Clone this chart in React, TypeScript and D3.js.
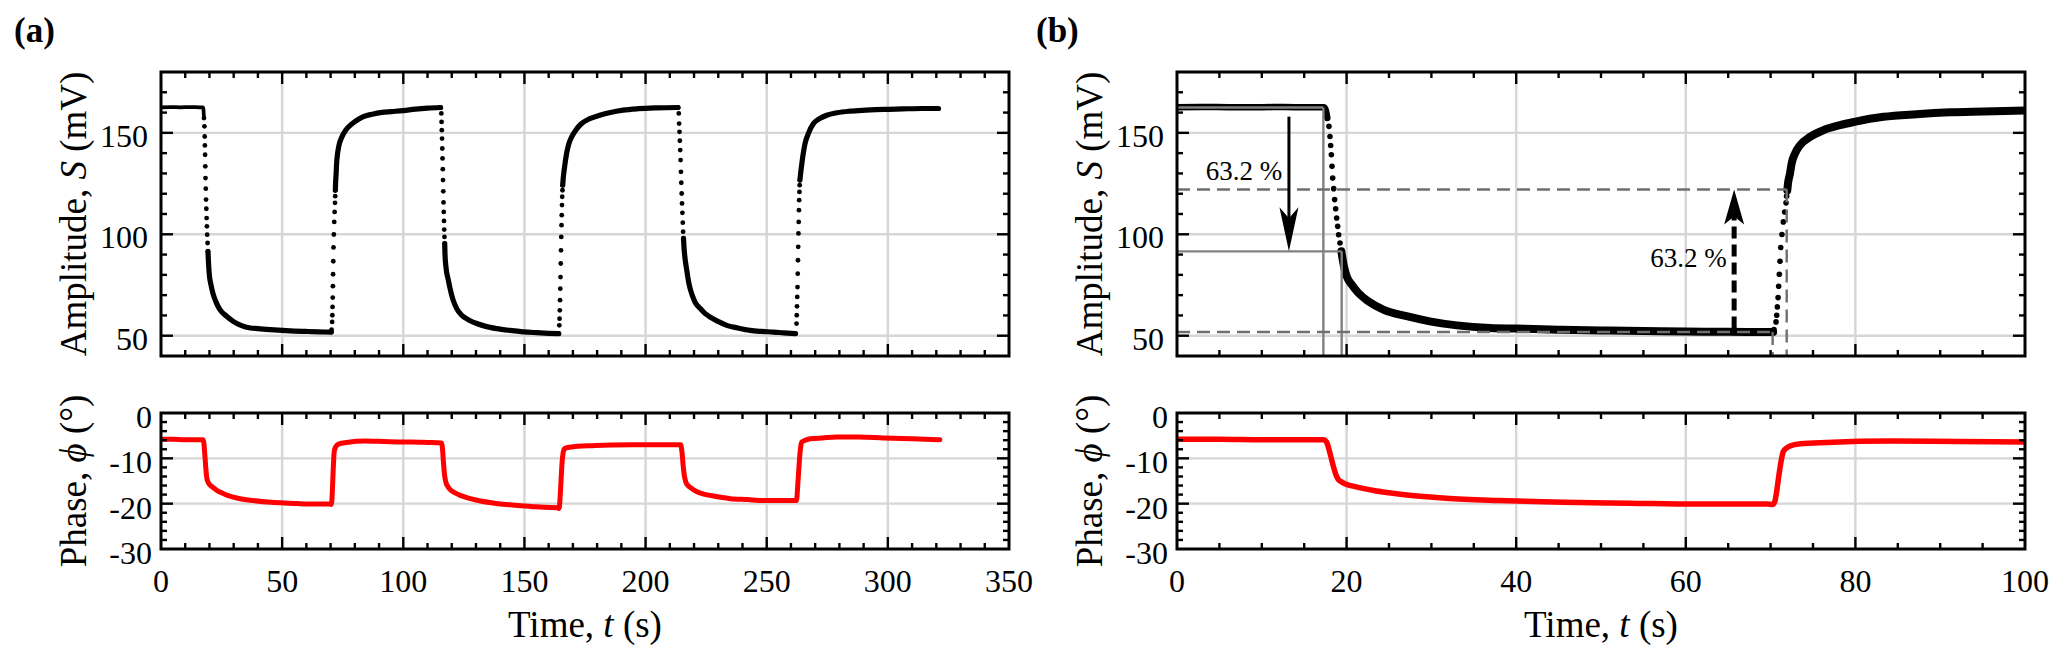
import * as d3 from "d3";

type Pt = [number, number];

// tick values
const timeTicksA = [0, 50, 100, 150, 200, 250, 300, 350];
const timeTicksB = [0, 20, 40, 60, 80, 100];
const ampTicks = [50, 100, 150];
const phaseTicks = [0, -10, -20, -30];

// amplitude S (mV): slow parts (drawn as a dense band) ...
const ampRuns: Pt[][] = [
    [[0, 162.6], [4, 162.7], [8, 162.6], [12, 162.7], [16, 162.6], [17.3, 162.6], [17.5, 161.8], [17.73, 157.3]],
    [[19.38, 91.6], [19.54, 87.5], [19.73, 83.4], [20.01, 79.3], [20.6, 75.2], [21.38, 71.1], [22.56, 67], [24.33, 62.9],
     [27.08, 59.6], [29.8, 57.1], [33, 55.1], [36.9, 53.8], [40, 53.5], [45, 53], [50, 52.6], [55, 52.3], [60, 52.1],
     [65, 51.9], [70.3, 51.8]],
    [[71.97, 121.7], [72.05, 125], [72.29, 130], [72.48, 134.9], [72.88, 139.8], [73.47, 143.9], [74.65, 148],
     [76.22, 151.3], [78.18, 153.8], [79.87, 155.4], [83.3, 157.9], [87.2, 159.2], [91.2, 160.1], [95.1, 160.5],
     [100, 161], [105, 161.7], [110, 162.2], [115.4, 162.5]],
    [[117.1, 95.4], [117.2, 90.5], [117.6, 84], [118.6, 77.4], [120.6, 67.5], [122, 63.5], [124.1, 60.1], [127, 57.8],
     [130.3, 56], [134, 54.6], [138.5, 53.5], [144, 52.6], [149.5, 51.9], [155, 51.5], [160, 51.2], [164.2, 51]],
    [[165.8, 124.2], [166, 127.5], [166.4, 131.6], [167.4, 139.8], [168.3, 144.5], [169.5, 148], [171.3, 151.5],
     [173.6, 154.6], [177, 157], [181.1, 158.7], [185, 159.9], [190.7, 161.2], [197, 161.9], [204.5, 162.3], [213.4, 162.5]],
    [[215.65, 98], [215.9, 93], [216.4, 87], [217, 82.3], [217.7, 77], [218.4, 73.2], [219.4, 69.5], [220.4, 66.6],
     [222.5, 63.5], [224.5, 61], [226.6, 59.2], [230, 57], [233.5, 55.1], [238, 53.8], [243.1, 52.6], [248, 52.1],
     [252.8, 51.8], [257, 51.4], [261.9, 51]],
    [[263.7, 126.7], [264, 130], [264.5, 134.8], [265.1, 140], [265.8, 144.6], [267.3, 150], [269.3, 154.6],
     [271.8, 157], [274.8, 158.7], [279, 159.9], [284.4, 160.7], [291, 161.2], [298.2, 161.6], [306, 161.8],
     [314, 162], [320.9, 162]],
];

// ... and the fast edges, where single samples stand apart
const ampEdges: Pt[] = [
    [17.73, 157.3], [17.92, 153.2], [18.04, 148.2], [18.12, 143.8], [18.2, 139.2], [18.28, 133.5], [18.36, 127.7],
    [18.48, 122.5], [18.59, 117.1], [18.71, 112.6], [18.83, 108], [18.95, 103.9], [19.06, 99.8], [19.22, 95.7], [19.38, 91.6],
    [70.3, 51.8], [70.4, 53], [70.64, 56.8], [70.72, 60.1], [70.8, 64.2], [70.88, 68.8], [70.95, 74.4], [71.03, 80.3], [71.11, 86.7],
    [71.19, 93.5], [71.34, 99.9], [71.5, 106.1], [71.66, 111], [71.82, 115.5], [71.89, 118.8], [71.97, 121.7],
    [115.4, 162.5], [115.7, 159.6], [115.8, 155.4], [115.9, 151.3], [116, 147.2], [116.1, 142.3], [116.2, 137.4], [116.3, 132.1],
    [116.4, 126.7], [116.5, 121.2], [116.6, 115.7], [116.7, 111], [116.8, 106.6], [116.9, 102.3], [117, 98.7], [117.1, 95.4],
    [164.2, 51], [164.4, 55.1], [164.5, 58.4], [164.6, 62.5], [164.7, 67.5], [164.8, 73.2], [164.9, 78.9], [165, 85.6], [165.1, 92.1],
    [165.2, 98.7], [165.3, 104.5], [165.4, 109.4], [165.5, 114.4], [165.6, 118.5], [165.7, 121.7], [165.8, 124.2],
    [213.4, 162.5], [213.7, 159.6], [213.85, 154.6], [214, 150.5], [214.15, 146.1], [214.3, 141.5], [214.45, 136.6], [214.6, 130.8],
    [214.75, 125.4], [214.9, 120.1], [215.05, 115.2], [215.2, 110.6], [215.35, 105.7], [215.5, 101.3], [215.65, 98],
    [261.9, 51], [262.3, 56], [262.4, 60.1], [262.5, 64.5], [262.6, 69.1], [262.7, 74], [262.8, 80.6], [262.9, 87.2], [263, 93.8],
    [263.1, 100.4], [263.2, 106.1], [263.3, 111.9], [263.4, 116.8], [263.5, 120.9], [263.6, 124.2], [263.7, 126.7],
];

// phase (deg)
const phase: Pt[] = [
    [0, -5.8], [5, -5.8], [10, -5.9], [15, -5.9], [17.3, -5.9], [17.6, -6.3], [17.8, -7.2], [18, -8.6], [18.2, -10],
    [18.4, -11.5], [18.6, -12.8], [18.8, -13.9], [19, -14.6], [19.4, -15.2], [19.8, -15.6], [20.9, -16.2], [23.2, -17.1],
    [25, -17.6], [27.1, -18.1], [31.7, -18.8], [37.9, -19.3], [45.6, -19.7], [53.4, -19.9], [61.1, -20.1], [69.6, -20.1],
    [70.2, -20.2], [70.5, -19.5], [70.7, -17.5], [70.9, -14.8], [71.1, -12.2], [71.3, -10], [71.5, -8.5], [71.9, -7.7],
    [72.3, -7.3], [73.5, -6.8], [76.6, -6.5], [84.3, -6.2], [92, -6.3], [100, -6.4],
    [103.4, -6.4], [110, -6.5], [115.7, -6.6], [116.2, -8], [116.6, -11], [117, -13.5], [117.6, -15.3], [118.5, -16.3],
    [120, -17.2], [122.5, -17.9], [125.3, -18.5], [130, -19.2], [139, -20], [145, -20.3], [152.8, -20.6], [158, -20.8],
    [163.7, -20.9], [164.3, -21.1], [164.8, -18], [165.2, -14], [165.6, -10.5], [166, -8.7], [166.5, -7.9], [168, -7.6],
    [172, -7.35], [178, -7.2], [185.7, -7.05], [195, -7], [207.6, -7], [214.5, -7], [215, -8.5], [215.5, -11.5],
    [216, -13.8], [216.6, -15.2], [217.5, -16], [218.6, -16.5], [221, -17.3], [224, -17.9], [226.8, -18.2], [231, -18.6],
    [235, -18.9], [242, -19.1], [248.7, -19.3], [255, -19.3], [262.3, -19.3], [262.8, -16], [263.3, -12], [263.8, -8.5],
    [264.4, -6.4], [266, -6], [268, -5.7], [273, -5.5], [279, -5.3], [288, -5.3], [298.2, -5.5], [310, -5.7], [321.5, -5.9],
];

// 63.2 % construction in (b): [t, S] corners
const fallStart: Pt = [17.26, 162.5];
const fallTau: Pt = [19.42, 91.6];
const riseStart: Pt = [70.24, 51.8];
const riseTau: Pt = [71.9, 122.1];
const fallArrow: Pt[] = [[13.2, 158], [13.2, 91.6]];
const riseArrow: Pt[] = [[65.7, 53.5], [65.7, 122.1]];
const pctLabels: Pt[] = [[3.4, 126.7], [55.8, 83.9]];

const W = 2067;
const H = 663;
const serif = "'Liberation Serif', 'Times New Roman', Tinos, 'DejaVu Serif', serif";
const colA = { left: 161, right: 1009 };
const colB = { left: 1177, right: 2025 };
const rowTop = { top: 72, bottom: 356 };
const rowBot = { top: 413, bottom: 549 };
const gridColor = "#d6d6d6";

type Scale = d3.ScaleLinear<number, number>;

function Frame({ x, y, xMajor, xMinor, yMajor, yMinor, xLabels, labelGap, labelDy }: {
    x: Scale; y: Scale; xMajor: number[]; xMinor: number; yMajor: number[]; yMinor: number;
    xLabels: boolean; labelGap: number; labelDy: number;
}) {
    const [x0, x1] = x.range();
    const [y0, y1] = y.range(); // y0 bottom, y1 top
    const [xd0, xd1] = x.domain();
    const [yd0, yd1] = y.domain();
    const xm = d3.range(xd0, xd1 + 1e-6, xMinor).filter((v) => v > xd0 && v < xd1);
    const ym = d3.range(yd0, yd1 + 1e-6, yMinor).filter((v) => v > yd0 && v < yd1);
    const isMajorX = (v: number) => xMajor.some((m) => Math.abs(m - v) < 1e-6);
    const isMajorY = (v: number) => yMajor.some((m) => Math.abs(m - v) < 1e-6);
    return (
        <g>
            {xm.map((v) => {
                const L = isMajorX(v) ? 12 : 6;
                return (
                    <g key={"xt" + v} stroke="#000" strokeWidth={2.4}>
                        <line x1={x(v)} x2={x(v)} y1={y0} y2={y0 - L} />
                        <line x1={x(v)} x2={x(v)} y1={y1} y2={y1 + L} />
                    </g>
                );
            })}
            {ym.map((v) => {
                const L = isMajorY(v) ? 12 : 6;
                return (
                    <g key={"yt" + v} stroke="#000" strokeWidth={2.4}>
                        <line x1={x0} x2={x0 + L} y1={y(v)} y2={y(v)} />
                        <line x1={x1} x2={x1 - L} y1={y(v)} y2={y(v)} />
                    </g>
                );
            })}
            <rect x={x0} y={y1} width={x1 - x0} height={y0 - y1} fill="none" stroke="#000" strokeWidth={3} />
            {yMajor.map((v) => (
                <text key={"yl" + v} x={x0 - labelGap} y={y(v) + labelDy} textAnchor="end"
                    style={{ fontFamily: serif, fontSize: 32 }}>{String(v)}</text>
            ))}
            {xLabels && xMajor.map((v) => (
                <text key={"xl" + v} x={x(v)} y={592} textAnchor="middle"
                    style={{ fontFamily: serif, fontSize: 32 }}>{String(v)}</text>
            ))}
        </g>
    );
}

function Grid({ x, y, xs, ys }: { x: Scale; y: Scale; xs: number[]; ys: number[] }) {
    const [x0, x1] = x.range();
    const [y0, y1] = y.range();
    return (
        <g stroke={gridColor} strokeWidth={2.4}>
            {xs.filter((v) => x(v) > x0 + 1 && x(v) < x1 - 1).map((v) => (
                <line key={"gx" + v} x1={x(v)} x2={x(v)} y1={y0} y2={y1} />
            ))}
            {ys.filter((v) => y(v) < y0 - 1 && y(v) > y1 + 1).map((v) => (
                <line key={"gy" + v} x1={x0} x2={x1} y1={y(v)} y2={y(v)} />
            ))}
        </g>
    );
}

function Column({ id, col, tMax, xMajor, xMinor, band, dotR, phaseW, construction }: {
    id: string; col: { left: number; right: number }; tMax: number; xMajor: number[]; xMinor: number;
    band: number; dotR: number; phaseW: number; construction: boolean;
}) {
    const x = d3.scaleLinear().domain([0, tMax]).range([col.left, col.right]);
    const yS = d3.scaleLinear().domain([40, 180]).range([rowTop.bottom, rowTop.top]);
    const yP = d3.scaleLinear().domain([-30, 0]).range([rowBot.bottom, rowBot.top]);
    const keep = (p: Pt) => p[0] <= tMax + 1e-6;

    const lineS = d3.line<Pt>().x((d) => x(d[0])).y((d) => yS(d[1])).curve(d3.curveMonotoneX);
    const lineP = d3.line<Pt>().x((d) => x(d[0])).y((d) => yP(d[1])).curve(d3.curveMonotoneX);
    const cx = (col.left + col.right) / 2;
    const titleStyle = { fontFamily: serif, fontSize: 37 };

    const grayLine = (a: Pt, b: Pt, dashed: boolean, k: string) => (
        <line key={k} x1={x(a[0])} y1={yS(a[1])} x2={x(b[0])} y2={yS(b[1])}
            stroke={dashed ? "#6f6f6f" : "#808080"} strokeWidth={2.4}
            strokeDasharray={dashed ? "13 7" : undefined} />
    );

    const fx = x(fallArrow[0][0]);
    const fTip = yS(fallArrow[1][1]);
    const rx = x(riseArrow[0][0]);
    const rTip = yS(riseArrow[1][1]);

    return (
        <g>
            <defs>
                <clipPath id={"clipS" + id}>
                    <rect x={col.left} y={rowTop.top} width={col.right - col.left} height={rowTop.bottom - rowTop.top} />
                </clipPath>
                <clipPath id={"clipP" + id}>
                    <rect x={col.left} y={rowBot.top} width={col.right - col.left} height={rowBot.bottom - rowBot.top} />
                </clipPath>
            </defs>

            {/* amplitude */}
            <Grid x={x} y={yS} xs={xMajor} ys={ampTicks} />
            <g clipPath={`url(#clipS${id})`}>
                {ampRuns.map((run, i) => {
                    const pts = run.filter(keep);
                    return pts.length > 1 ? (
                        <path key={i} d={lineS(pts) ?? ""} fill="none" stroke="#000" strokeWidth={i === 0 ? band - 1.5 : band}
                            strokeLinecap="round" strokeLinejoin="round" />
                    ) : null;
                })}
                {ampEdges.filter(keep).map((p, i) => (
                    <circle key={i} cx={x(p[0])} cy={yS(p[1])} r={dotR} fill="#000" />
                ))}
            </g>

            {construction && (
                <g>
                    {grayLine([0, fallStart[1]], fallStart, false, "c1")}
                    {grayLine(fallStart, [fallStart[0], 40], false, "c2")}
                    {grayLine([0, fallTau[1]], fallTau, false, "c3")}
                    {grayLine(fallTau, [fallTau[0], 40], false, "c4")}
                    {grayLine([0, riseTau[1]], riseTau, true, "c5")}
                    {grayLine(riseTau, [riseTau[0], 40], true, "c6")}
                    {grayLine([0, riseStart[1]], riseStart, true, "c7")}
                    {grayLine(riseStart, [riseStart[0], 40], true, "c8")}

                    <line x1={fx} x2={fx} y1={yS(fallArrow[0][1])} y2={fTip - 30} stroke="#000" strokeWidth={3} />
                    <path d={`M${fx},${fTip} L${fx - 9.5},${fTip - 44} L${fx},${fTip - 33} L${fx + 9.5},${fTip - 44} Z`} fill="#000" />

                    <line x1={rx} x2={rx} y1={yS(riseArrow[0][1])} y2={rTip + 26} stroke="#000" strokeWidth={5}
                        strokeDasharray="12 6" />
                    <path d={`M${rx},${rTip} L${rx - 10},${rTip + 35} L${rx},${rTip + 27} L${rx + 10},${rTip + 35} Z`} fill="#000" />

                    {pctLabels.map((p, i) => (
                        <text key={i} x={x(p[0])} y={yS(p[1])} style={{ fontFamily: serif, fontSize: 27 }}>63.2 %</text>
                    ))}
                </g>
            )}
            <Frame x={x} y={yS} xMajor={xMajor} xMinor={xMinor} yMajor={ampTicks} yMinor={10}
                xLabels={false} labelGap={13} labelDy={14} />

            {/* phase */}
            <Grid x={x} y={yP} xs={xMajor} ys={phaseTicks} />
            <g clipPath={`url(#clipP${id})`}>
                <path d={lineP(phase.filter(keep)) ?? ""} fill="none" stroke="#ff0000" strokeWidth={phaseW}
                    strokeLinecap="round" strokeLinejoin="round" />
            </g>
            <Frame x={x} y={yP} xMajor={xMajor} xMinor={xMinor} yMajor={phaseTicks} yMinor={2}
                xLabels={true} labelGap={9} labelDy={15} />

            {/* axis titles */}
            <text x={cx} y={637} textAnchor="middle" style={titleStyle}>
                Time, <tspan fontStyle="italic">t</tspan> (s)
            </text>
            <text transform={`translate(${col.left - 75},${(rowTop.top + rowTop.bottom) / 2}) rotate(-90)`}
                textAnchor="middle" style={titleStyle}>
                Amplitude, <tspan fontStyle="italic">S</tspan> (mV)
            </text>
            <text transform={`translate(${col.left - 75},${(rowBot.top + rowBot.bottom) / 2}) rotate(-90)`}
                textAnchor="middle" style={titleStyle}>
                Phase, <tspan fontStyle="italic">ϕ</tspan> (°)
            </text>
        </g>
    );
}

export default function App() {
    return (
        <svg width={W} height={H} viewBox={`0 0 ${W} ${H}`}
            style={{ position: "absolute", left: 0, top: 0, background: "#fff", display: "block", fontFamily: serif }}>
            <rect width={W} height={H} fill="#fff" />
            <text x={14} y={42} style={{ fontFamily: serif, fontSize: 35, fontWeight: "bold" }}>(a)</text>
            <text x={1036} y={42} style={{ fontFamily: serif, fontSize: 35, fontWeight: "bold" }}>(b)</text>
            <Column id="a" col={colA} tMax={350} xMajor={timeTicksA} xMinor={10} band={5.2} dotR={2.4}
                phaseW={5} construction={false} />
            <Column id="b" col={colB} tMax={100} xMajor={timeTicksB} xMinor={5} band={8} dotR={2.8}
                phaseW={5.5} construction={true} />
        </svg>
    );
}
